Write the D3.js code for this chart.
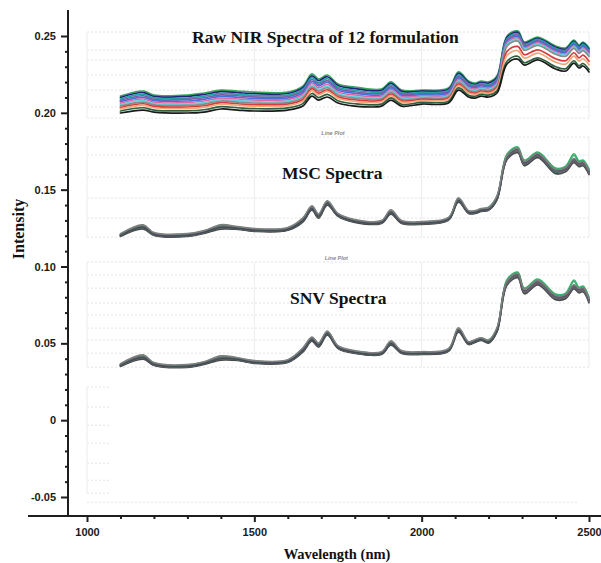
<!DOCTYPE html>
<html>
<head>
<meta charset="utf-8">
<script src="https://cdn.jsdelivr.net/npm/d3@7"></script>
<style>
  html, body { margin: 0; padding: 0; background: #fff; }
  svg { display: block; }
</style>
</head>
<body>
<svg id="chart" width="601" height="563"></svg>
<script>
// ---- data -------------------------------------------------------------
const wavelengths = [1100, 1168, 1200, 1300, 1350, 1400, 1450, 1500, 1600, 1645, 1672, 1692, 1718, 1750, 1800, 1880, 1908, 1940,
                     2000, 2080, 2110, 2140, 2160, 2178, 2200, 2225, 2255, 2287, 2307, 2347, 2400, 2430, 2455, 2470, 2482, 2500];

const xTickValues = [1000, 1500, 2000, 2500];
const yTickValues = [-0.05, 0, 0.05, 0.10, 0.15, 0.20, 0.25];
const yTickLabels = ["-0.05", "0", "0.05", "0.10", "0.15", "0.20", "0.25"];

const panelTitles = ["Raw NIR Spectra of 12 formulation", "MSC Spectra", "SNV Spectra"];

// raw absorbance of the 12 formulations
const rawSpectra = [
  [0.2109,0.2142,0.2116,0.2116,0.2129,0.2148,0.2142,0.2135,0.2135,0.2174,0.2253,0.2220,0.2246,0.2188,0.2168,0.2155,0.2201,0.2148,0.2148,0.2161,0.2266,0.2207,0.2194,0.2207,0.2201,0.2240,0.2500,0.2533,0.2461,0.2493,0.2435,0.2422,0.2474,0.2441,0.2461,0.2422],
  [0.2100,0.2132,0.2107,0.2107,0.2119,0.2138,0.2132,0.2125,0.2126,0.2164,0.2241,0.2209,0.2235,0.2178,0.2158,0.2146,0.2192,0.2140,0.2141,0.2153,0.2257,0.2199,0.2186,0.2199,0.2193,0.2231,0.2491,0.2524,0.2453,0.2485,0.2427,0.2414,0.2466,0.2433,0.2453,0.2414],
  [0.2090,0.2121,0.2097,0.2096,0.2108,0.2127,0.2121,0.2114,0.2115,0.2152,0.2229,0.2197,0.2222,0.2167,0.2147,0.2136,0.2181,0.2130,0.2133,0.2145,0.2246,0.2189,0.2177,0.2190,0.2184,0.2221,0.2482,0.2515,0.2446,0.2478,0.2420,0.2407,0.2459,0.2426,0.2445,0.2406],
  [0.2081,0.2111,0.2088,0.2087,0.2098,0.2117,0.2111,0.2104,0.2106,0.2141,0.2217,0.2186,0.2210,0.2157,0.2137,0.2127,0.2171,0.2122,0.2125,0.2137,0.2236,0.2181,0.2169,0.2182,0.2176,0.2212,0.2473,0.2506,0.2438,0.2470,0.2412,0.2399,0.2451,0.2418,0.2438,0.2399],
  [0.2073,0.2101,0.2079,0.2077,0.2088,0.2107,0.2101,0.2094,0.2096,0.2131,0.2205,0.2175,0.2199,0.2147,0.2127,0.2118,0.2162,0.2114,0.2118,0.2129,0.2227,0.2173,0.2162,0.2175,0.2169,0.2203,0.2464,0.2496,0.2431,0.2463,0.2405,0.2392,0.2444,0.2411,0.2430,0.2391],
  [0.2063,0.2090,0.2069,0.2067,0.2077,0.2096,0.2090,0.2083,0.2086,0.2119,0.2193,0.2162,0.2186,0.2136,0.2116,0.2108,0.2151,0.2104,0.2110,0.2120,0.2216,0.2163,0.2153,0.2166,0.2160,0.2193,0.2454,0.2487,0.2423,0.2455,0.2397,0.2384,0.2436,0.2403,0.2422,0.2383],
  [0.2054,0.2080,0.2060,0.2057,0.2067,0.2086,0.2080,0.2073,0.2076,0.2109,0.2181,0.2151,0.2174,0.2126,0.2106,0.2099,0.2142,0.2096,0.2102,0.2112,0.2207,0.2155,0.2145,0.2158,0.2152,0.2184,0.2445,0.2478,0.2416,0.2448,0.2390,0.2377,0.2429,0.2396,0.2414,0.2375],
  [0.2045,0.2070,0.2052,0.2048,0.2057,0.2077,0.2070,0.2064,0.2067,0.2099,0.2169,0.2141,0.2163,0.2116,0.2096,0.2091,0.2133,0.2088,0.2095,0.2105,0.2198,0.2147,0.2137,0.2150,0.2144,0.2176,0.2434,0.2467,0.2407,0.2439,0.2381,0.2368,0.2420,0.2387,0.2405,0.2366],
  [0.2035,0.2059,0.2042,0.2038,0.2046,0.2066,0.2059,0.2053,0.2057,0.2087,0.2157,0.2128,0.2150,0.2105,0.2085,0.2081,0.2122,0.2078,0.2087,0.2096,0.2187,0.2137,0.2128,0.2141,0.2135,0.2166,0.2400,0.2432,0.2378,0.2410,0.2352,0.2339,0.2391,0.2358,0.2375,0.2336],
  [0.2026,0.2049,0.2033,0.2028,0.2036,0.2056,0.2049,0.2043,0.2047,0.2076,0.2145,0.2117,0.2139,0.2095,0.2075,0.2072,0.2112,0.2070,0.2080,0.2088,0.2177,0.2129,0.2120,0.2133,0.2127,0.2157,0.2373,0.2405,0.2356,0.2388,0.2330,0.2317,0.2369,0.2336,0.2352,0.2313],
  [0.2012,0.2033,0.2018,0.2013,0.2020,0.2040,0.2033,0.2027,0.2032,0.2060,0.2126,0.2099,0.2120,0.2079,0.2059,0.2057,0.2097,0.2056,0.2068,0.2076,0.2162,0.2115,0.2108,0.2121,0.2115,0.2142,0.2336,0.2368,0.2326,0.2358,0.2300,0.2287,0.2339,0.2306,0.2321,0.2282],
  [0.1999,0.2018,0.2005,0.1999,0.2005,0.2025,0.2018,0.2012,0.2018,0.2044,0.2109,0.2083,0.2103,0.2064,0.2044,0.2044,0.2083,0.2044,0.2057,0.2064,0.2148,0.2103,0.2096,0.2109,0.2103,0.2129,0.2318,0.2350,0.2311,0.2344,0.2285,0.2272,0.2324,0.2292,0.2305,0.2266]
];

// multiplicative scatter corrected spectra
const mscSpectra = [
  [0.1195,0.1243,0.1202,0.1195,0.1215,0.1243,0.1241,0.1228,0.1235,0.1288,0.1366,0.1314,0.1399,0.1326,0.1287,0.1280,0.1340,0.1280,0.1274,0.1300,0.1418,0.1345,0.1345,0.1358,0.1365,0.1431,0.1694,0.1740,0.1655,0.1707,0.1603,0.1616,0.1675,0.1649,0.1655,0.1597],
  [0.1198,0.1248,0.1205,0.1198,0.1218,0.1248,0.1244,0.1231,0.1238,0.1293,0.1371,0.1319,0.1404,0.1329,0.1290,0.1283,0.1345,0.1283,0.1277,0.1303,0.1423,0.1348,0.1348,0.1361,0.1368,0.1436,0.1700,0.1746,0.1661,0.1713,0.1609,0.1622,0.1681,0.1655,0.1661,0.1603],
  [0.1200,0.1251,0.1207,0.1200,0.1220,0.1251,0.1246,0.1233,0.1240,0.1296,0.1374,0.1322,0.1407,0.1331,0.1292,0.1285,0.1348,0.1285,0.1279,0.1305,0.1426,0.1350,0.1350,0.1363,0.1370,0.1439,0.1704,0.1750,0.1665,0.1717,0.1613,0.1626,0.1685,0.1659,0.1665,0.1607],
  [0.1202,0.1254,0.1209,0.1202,0.1222,0.1254,0.1248,0.1235,0.1242,0.1299,0.1377,0.1325,0.1410,0.1333,0.1294,0.1287,0.1351,0.1287,0.1281,0.1307,0.1429,0.1352,0.1352,0.1365,0.1372,0.1442,0.1708,0.1754,0.1669,0.1721,0.1617,0.1630,0.1689,0.1663,0.1669,0.1611],
  [0.1209,0.1265,0.1216,0.1209,0.1229,0.1265,0.1255,0.1242,0.1249,0.1310,0.1388,0.1336,0.1421,0.1340,0.1301,0.1294,0.1362,0.1294,0.1288,0.1314,0.1440,0.1359,0.1359,0.1372,0.1379,0.1453,0.1726,0.1772,0.1687,0.1739,0.1635,0.1648,0.1723,0.1681,0.1687,0.1629],
  [0.1204,0.1261,0.1211,0.1204,0.1224,0.1257,0.1250,0.1237,0.1244,0.1302,0.1380,0.1328,0.1413,0.1335,0.1296,0.1289,0.1354,0.1289,0.1283,0.1309,0.1432,0.1354,0.1354,0.1367,0.1374,0.1445,0.1710,0.1756,0.1671,0.1723,0.1619,0.1632,0.1691,0.1665,0.1671,0.1613],
  [0.1205,0.1267,0.1212,0.1205,0.1225,0.1259,0.1251,0.1238,0.1245,0.1304,0.1382,0.1330,0.1415,0.1336,0.1297,0.1290,0.1356,0.1290,0.1284,0.1310,0.1434,0.1355,0.1355,0.1368,0.1375,0.1447,0.1712,0.1758,0.1673,0.1725,0.1621,0.1634,0.1693,0.1667,0.1673,0.1615],
  [0.1206,0.1260,0.1213,0.1206,0.1226,0.1260,0.1252,0.1239,0.1246,0.1305,0.1383,0.1331,0.1416,0.1337,0.1298,0.1291,0.1357,0.1291,0.1285,0.1311,0.1435,0.1356,0.1356,0.1369,0.1376,0.1448,0.1714,0.1760,0.1675,0.1727,0.1623,0.1636,0.1695,0.1669,0.1675,0.1617],
  [0.1211,0.1268,0.1218,0.1211,0.1231,0.1268,0.1257,0.1244,0.1251,0.1313,0.1391,0.1339,0.1424,0.1342,0.1303,0.1296,0.1365,0.1296,0.1290,0.1316,0.1443,0.1361,0.1361,0.1374,0.1387,0.1456,0.1732,0.1778,0.1693,0.1745,0.1641,0.1654,0.1733,0.1687,0.1693,0.1635],
  [0.1207,0.1262,0.1214,0.1207,0.1227,0.1262,0.1253,0.1240,0.1247,0.1307,0.1385,0.1333,0.1418,0.1338,0.1299,0.1292,0.1359,0.1292,0.1286,0.1312,0.1437,0.1357,0.1357,0.1370,0.1377,0.1450,0.1716,0.1762,0.1677,0.1729,0.1625,0.1638,0.1697,0.1671,0.1677,0.1619],
  [0.1203,0.1255,0.1210,0.1203,0.1223,0.1255,0.1249,0.1236,0.1243,0.1300,0.1378,0.1326,0.1411,0.1334,0.1295,0.1288,0.1352,0.1288,0.1282,0.1308,0.1430,0.1353,0.1353,0.1366,0.1373,0.1443,0.1718,0.1764,0.1679,0.1731,0.1627,0.1640,0.1699,0.1673,0.1679,0.1621],
  [0.1214,0.1272,0.1221,0.1214,0.1234,0.1272,0.1260,0.1247,0.1254,0.1317,0.1395,0.1343,0.1428,0.1345,0.1306,0.1299,0.1369,0.1299,0.1293,0.1319,0.1447,0.1364,0.1364,0.1377,0.1384,0.1460,0.1722,0.1768,0.1683,0.1735,0.1631,0.1644,0.1703,0.1677,0.1683,0.1625]
];

// standard normal variate spectra
const snvSpectra = [
  [0.0349,0.0396,0.0356,0.0343,0.0362,0.0390,0.0388,0.0369,0.0375,0.0442,0.0513,0.0474,0.0552,0.0466,0.0434,0.0427,0.0487,0.0434,0.0427,0.0447,0.0572,0.0492,0.0506,0.0518,0.0501,0.0572,0.0877,0.0926,0.0822,0.0880,0.0783,0.0789,0.0854,0.0828,0.0835,0.0763],
  [0.0352,0.0401,0.0359,0.0346,0.0365,0.0395,0.0391,0.0372,0.0378,0.0447,0.0518,0.0479,0.0557,0.0469,0.0437,0.0430,0.0492,0.0437,0.0430,0.0450,0.0577,0.0495,0.0509,0.0521,0.0504,0.0577,0.0883,0.0932,0.0828,0.0886,0.0789,0.0795,0.0860,0.0834,0.0841,0.0769],
  [0.0354,0.0404,0.0361,0.0348,0.0367,0.0398,0.0393,0.0374,0.0380,0.0450,0.0521,0.0482,0.0560,0.0471,0.0439,0.0432,0.0495,0.0439,0.0432,0.0452,0.0580,0.0497,0.0511,0.0523,0.0506,0.0580,0.0887,0.0936,0.0832,0.0890,0.0793,0.0799,0.0864,0.0838,0.0845,0.0773],
  [0.0356,0.0407,0.0363,0.0350,0.0369,0.0401,0.0395,0.0376,0.0382,0.0453,0.0524,0.0485,0.0563,0.0473,0.0441,0.0434,0.0498,0.0441,0.0434,0.0454,0.0583,0.0499,0.0513,0.0525,0.0508,0.0583,0.0891,0.0940,0.0836,0.0894,0.0797,0.0803,0.0868,0.0842,0.0849,0.0777],
  [0.0363,0.0418,0.0370,0.0357,0.0376,0.0412,0.0402,0.0383,0.0389,0.0464,0.0535,0.0496,0.0574,0.0480,0.0448,0.0441,0.0509,0.0448,0.0441,0.0461,0.0594,0.0506,0.0520,0.0532,0.0515,0.0594,0.0909,0.0958,0.0854,0.0912,0.0815,0.0821,0.0902,0.0860,0.0867,0.0795],
  [0.0358,0.0414,0.0365,0.0352,0.0371,0.0404,0.0397,0.0378,0.0384,0.0456,0.0527,0.0488,0.0566,0.0475,0.0443,0.0436,0.0501,0.0443,0.0436,0.0456,0.0586,0.0501,0.0515,0.0527,0.0510,0.0586,0.0893,0.0942,0.0838,0.0896,0.0799,0.0805,0.0870,0.0844,0.0851,0.0779],
  [0.0359,0.0420,0.0366,0.0353,0.0372,0.0406,0.0398,0.0379,0.0385,0.0458,0.0529,0.0490,0.0568,0.0476,0.0444,0.0437,0.0503,0.0444,0.0437,0.0457,0.0588,0.0502,0.0516,0.0528,0.0511,0.0588,0.0895,0.0944,0.0840,0.0898,0.0801,0.0807,0.0872,0.0846,0.0853,0.0781],
  [0.0360,0.0413,0.0367,0.0354,0.0373,0.0407,0.0399,0.0380,0.0386,0.0459,0.0530,0.0491,0.0569,0.0477,0.0445,0.0438,0.0504,0.0445,0.0438,0.0458,0.0589,0.0503,0.0517,0.0529,0.0512,0.0589,0.0897,0.0946,0.0842,0.0900,0.0803,0.0809,0.0874,0.0848,0.0855,0.0783],
  [0.0365,0.0421,0.0372,0.0359,0.0378,0.0415,0.0404,0.0385,0.0391,0.0467,0.0538,0.0499,0.0577,0.0482,0.0450,0.0443,0.0512,0.0450,0.0443,0.0463,0.0597,0.0508,0.0522,0.0534,0.0523,0.0597,0.0915,0.0964,0.0860,0.0918,0.0821,0.0827,0.0912,0.0866,0.0873,0.0801],
  [0.0361,0.0415,0.0368,0.0355,0.0374,0.0409,0.0400,0.0381,0.0387,0.0461,0.0532,0.0493,0.0571,0.0478,0.0446,0.0439,0.0506,0.0446,0.0439,0.0459,0.0591,0.0504,0.0518,0.0530,0.0513,0.0591,0.0899,0.0948,0.0844,0.0902,0.0805,0.0811,0.0876,0.0850,0.0857,0.0785],
  [0.0357,0.0408,0.0364,0.0351,0.0370,0.0402,0.0396,0.0377,0.0383,0.0454,0.0525,0.0486,0.0564,0.0474,0.0442,0.0435,0.0499,0.0442,0.0435,0.0455,0.0584,0.0500,0.0514,0.0526,0.0509,0.0584,0.0901,0.0950,0.0846,0.0904,0.0807,0.0813,0.0878,0.0852,0.0859,0.0787],
  [0.0368,0.0425,0.0375,0.0362,0.0381,0.0419,0.0407,0.0388,0.0394,0.0471,0.0542,0.0503,0.0581,0.0485,0.0453,0.0446,0.0516,0.0453,0.0446,0.0466,0.0601,0.0511,0.0525,0.0537,0.0520,0.0601,0.0905,0.0954,0.0850,0.0908,0.0811,0.0817,0.0882,0.0856,0.0863,0.0791]
];

// ---- styling ----------------------------------------------------------
const rawColors = ["#3aa55d", "#23237a", "#22a3a3", "#7b5ca8", "#4a6fd8", "#e066a8",
                   "#62d0df", "#8a8a8a", "#d63c3c", "#f0a778", "#2f5f3f", "#1a1a1a"];
const treatedColors = ["#555555", "#3a3a3a", "#777777", "#2f6f4f", "#4caf7a", "#6b5b8a",
                       "#8e4a7e", "#5a5f66", "#35b36a", "#6e6e6e", "#454e58", "#808080"];

const serif = "'Liberation Serif', 'Times New Roman', Times, serif";
const sans = "'Liberation Sans', Arial, Helvetica, sans-serif";

// faint frames of the stacked line-plot panels behind the spectra
const panelBackdrops = [
  { from: 1000, to: 2500, levels: [0.2526, 0.2409, 0.2344, 0.2246, 0.2148, 0.2038, 0.1966] },
  { from: 1000, to: 2500, levels: [0.1842, 0.1725, 0.1582, 0.1445, 0.1315, 0.1191] },
  { from: 1000, to: 2500, levels: [0.1029, 0.0944, 0.0859, 0.0762, 0.0684, 0.0599, 0.0521, 0.0436, 0.0345] },
  { from: 1000, to: 1070, levels: [0.0215, 0.0085, -0.0033, -0.0150, -0.0280, -0.0391, -0.0475] }
];

// ---- chart ------------------------------------------------------------
const width = 601, height = 563;
const svg = d3.select("#chart");
svg.append("rect").attr("width", width).attr("height", height).attr("fill", "#fff");

const x = d3.scaleLinear().domain([1000, 2500]).range([87, 589]);
const y = d3.scaleLinear().domain([-0.05, 0.25]).range([497, 36]);
const axisLeftX = 68, axisBottomY = 516;

// backdrop grid
const back = svg.append("g").attr("fill", "none");
panelBackdrops.forEach(p => {
  back.selectAll(null).data(p.levels).join("line")
    .attr("x1", x(p.from)).attr("x2", x(p.to))
    .attr("y1", d => y(d)).attr("y2", d => y(d))
    .attr("stroke", "#e4e4e4").attr("stroke-width", 1).attr("stroke-dasharray", "2,2");
  const verts = xTickValues.filter(w => w >= p.from && w <= p.to);
  back.selectAll(null).data(verts).join("line")
    .attr("x1", d => x(d)).attr("x2", d => x(d))
    .attr("y1", y(p.levels[0])).attr("y2", y(p.levels[p.levels.length - 1]))
    .attr("stroke", "#ececec").attr("stroke-width", 1);
});
back.append("line")
  .attr("x1", x(1000)).attr("x2", x(2470))
  .attr("y1", y(-0.0534)).attr("y2", y(-0.0534))
  .attr("stroke", "#e4e4e4").attr("stroke-dasharray", "2,2");

// small captions of the embedded plots
[[1735, 0.1855], [1745, 0.1042]].forEach(([w, v]) => {
  svg.append("text")
    .attr("x", x(w)).attr("y", y(v))
    .attr("text-anchor", "middle")
    .attr("font-family", sans).attr("font-size", 5.5).attr("font-style", "italic")
    .attr("font-weight", "bold").attr("fill", "#8a8a8a")
    .text("Line Plot");
});

// spectra
const line = d3.line()
  .x((d, i) => x(wavelengths[i]))
  .y(d => y(d))
  .curve(d3.curveCatmullRom.alpha(0.5));

function drawSpectra(series, colors, strokeWidth) {
  svg.append("g").attr("fill", "none")
    .selectAll("path").data(series).join("path")
    .attr("d", line)
    .attr("stroke", (d, i) => colors[i])
    .attr("stroke-width", strokeWidth)
    .attr("stroke-linejoin", "round")
    .attr("stroke-linecap", "round");
}
drawSpectra(rawSpectra, rawColors, 1.7);
drawSpectra(mscSpectra, treatedColors, 1.5);
drawSpectra(snvSpectra, treatedColors, 1.5);

// panel titles
const titlePos = [[192, 43], [282, 179], [290, 304]];
panelTitles.forEach((t, i) => {
  svg.append("text")
    .attr("x", titlePos[i][0]).attr("y", titlePos[i][1])
    .attr("font-family", serif).attr("font-weight", "bold").attr("font-size", 17.5)
    .attr("fill", "#111")
    .text(t);
});

// x axis
const xMinor = d3.range(1100, 2500, 100).filter(v => !xTickValues.includes(v));
const gxMinor = svg.append("g").attr("transform", `translate(0,${axisBottomY})`)
  .call(d3.axisBottom(x).tickValues(xMinor).tickSize(3).tickFormat(""));
const gx = svg.append("g").attr("transform", `translate(0,${axisBottomY})`)
  .call(d3.axisBottom(x).tickValues(xTickValues).tickSize(6).tickPadding(6).tickFormat(d3.format("d")));

// y axis
const yMinor = d3.range(-4, 25).map(v => v / 100).filter(v => !yTickValues.some(t => Math.abs(t - v) < 1e-9));
const gyMinor = svg.append("g").attr("transform", `translate(${axisLeftX},0)`)
  .call(d3.axisLeft(y).tickValues(yMinor).tickSize(3).tickFormat(""));
const gy = svg.append("g").attr("transform", `translate(${axisLeftX},0)`)
  .call(d3.axisLeft(y).tickValues(yTickValues).tickSize(7).tickPadding(5)
        .tickFormat((d, i) => yTickLabels[i]));

[gxMinor, gx, gyMinor, gy].forEach(g => {
  g.select(".domain").remove();
  g.selectAll(".tick line").attr("stroke", "#1e1e1e").attr("stroke-width", 2);
  g.selectAll(".tick text")
    .attr("font-family", sans).attr("font-weight", "bold").attr("font-size", 11)
    .attr("fill", "#1a1a1a");
});

// axis lines
svg.append("line")
  .attr("x1", 28).attr("x2", width)
  .attr("y1", axisBottomY).attr("y2", axisBottomY)
  .attr("stroke", "#1e1e1e").attr("stroke-width", 2);
svg.append("line")
  .attr("x1", axisLeftX).attr("x2", axisLeftX)
  .attr("y1", 10).attr("y2", axisBottomY)
  .attr("stroke", "#1e1e1e").attr("stroke-width", 2);

// axis titles
svg.append("text")
  .attr("transform", "translate(24,229) rotate(-90)")
  .attr("text-anchor", "middle")
  .attr("font-family", serif).attr("font-weight", "bold").attr("font-size", 16)
  .attr("fill", "#111")
  .text("Intensity");
svg.append("text")
  .attr("x", 337).attr("y", 559)
  .attr("text-anchor", "middle")
  .attr("font-family", serif).attr("font-weight", "bold").attr("font-size", 14.5)
  .attr("fill", "#111")
  .text("Wavelength (nm)");
</script>
</body>
</html>
